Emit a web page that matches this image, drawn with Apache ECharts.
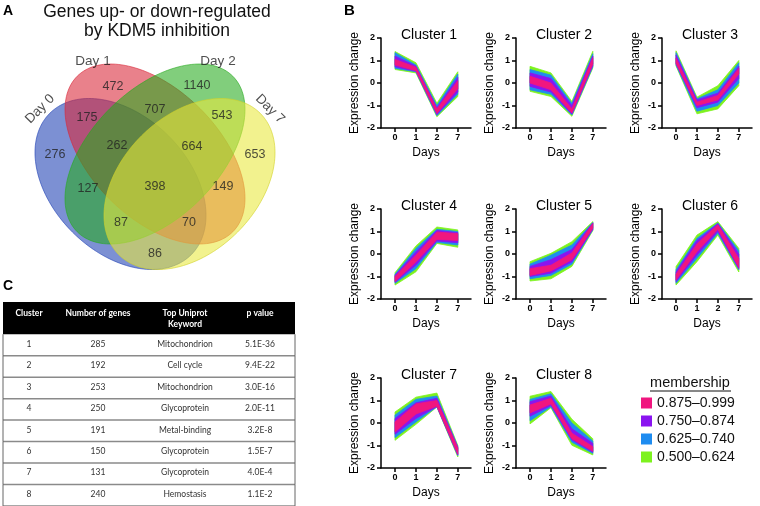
<!DOCTYPE html>
<html><head><meta charset="utf-8">
<script src="https://cdn.jsdelivr.net/npm/echarts@6/dist/echarts.min.js"></script>
<style>html,body{margin:0;padding:0;background:#fff}#c{width:760px;height:506px}</style>
</head><body><div id="c"></div>
<script>
// ---------------- DATA ----------------
const days = ['0', '1', '2', '7'];
const clusterNames = ['Cluster 1','Cluster 2','Cluster 3','Cluster 4','Cluster 5','Cluster 6','Cluster 7','Cluster 8'];
const membershipLevels = ['0.875–0.999', '0.750–0.874', '0.625–0.740', '0.500–0.624'];

// band per membership level: [lower bound per day, upper bound per day]
const c1Green  = [[0.60, 0.45, -1.50, -0.60], [1.40, 0.90, -0.90, 0.50]];
const c1Blue   = [[0.65, 0.50, -1.45, -0.50], [1.35, 0.80, -1.00, 0.40]];
const c1Purple = [[0.72, 0.52, -1.40, -0.40], [1.20, 0.75, -1.10, 0.25]];
const c1Pink   = [[0.80, 0.55, -1.35, -0.25], [1.05, 0.70, -1.15, 0.10]];

const c2Green  = [[-0.37, -0.60, -1.48, 0.67], [0.74, 0.45, -0.82, 1.41]];
const c2Blue   = [[-0.30, -0.50, -1.42, 0.72], [0.60, 0.35, -0.90, 1.30]];
const c2Purple = [[-0.15, -0.40, -1.38, 0.78], [0.45, 0.20, -1.00, 1.20]];
const c2Pink   = [[0.00, -0.30, -1.33, 0.85], [0.30, 0.00, -1.15, 1.12]];

const c3Green  = [[0.76, -1.37, -1.15, -0.12], [1.43, -0.63, -0.12, 1.00]];
const c3Blue   = [[0.80, -1.25, -1.00, 0.00], [1.35, -0.70, -0.30, 0.90]];
const c3Purple = [[0.85, -1.10, -0.85, 0.20], [1.25, -0.75, -0.45, 0.75]];
const c3Pink   = [[0.88, -1.00, -0.75, 0.40], [1.10, -0.85, -0.55, 0.65]];

const c4Green  = [[-1.38, -0.79, 0.47, 0.30], [-0.83, 0.36, 1.20, 1.07]];
const c4Blue   = [[-1.30, -0.65, 0.52, 0.40], [-0.90, 0.25, 1.10, 1.00]];
const c4Purple = [[-1.25, -0.50, 0.58, 0.50], [-0.95, 0.10, 1.05, 0.95]];
const c4Pink   = [[-1.22, -0.35, 0.65, 0.60], [-1.00, -0.05, 0.98, 0.90]];

const c5Green  = [[-1.20, -1.10, -0.55, 1.04], [-0.34, 0.03, 0.55, 1.44]];
const c5Blue   = [[-1.10, -0.95, -0.45, 1.08], [-0.45, -0.05, 0.40, 1.40]];
const c5Purple = [[-1.00, -0.85, -0.35, 1.10], [-0.55, -0.25, 0.20, 1.38]];
const c5Pink   = [[-0.95, -0.75, -0.25, 1.15], [-0.65, -0.50, 0.05, 1.35]];

const c6Green  = [[-1.38, -0.34, 0.84, -0.80], [-0.56, 0.84, 1.44, 0.25]];
const c6Blue   = [[-1.30, -0.20, 0.92, -0.70], [-0.70, 0.70, 1.38, 0.15]];
const c6Purple = [[-1.22, -0.05, 1.00, -0.65], [-0.80, 0.60, 1.35, 0.00]];
const c6Pink   = [[-1.15, 0.10, 1.10, -0.60], [-0.90, 0.45, 1.30, -0.20]];

const c7Green  = [[-0.77, -0.06, 0.71, -1.51], [0.49, 1.15, 1.33, -1.00]];
const c7Blue   = [[-0.65, 0.05, 0.72, -1.45], [0.35, 1.05, 1.20, -1.05]];
const c7Purple = [[-0.50, 0.20, 0.73, -1.42], [0.20, 0.90, 1.10, -1.08]];
const c7Pink   = [[-0.40, 0.40, 0.75, -1.38], [0.05, 0.85, 1.00, -1.12]];

const c8Green  = [[-0.04, 0.68, -0.99, -1.42], [1.19, 1.40, 0.17, -0.70]];
const c8Blue   = [[0.10, 0.72, -0.85, -1.35], [1.05, 1.30, 0.00, -0.80]];
const c8Purple = [[0.30, 0.78, -0.75, -1.30], [0.95, 1.20, -0.25, -0.90]];
const c8Pink   = [[0.45, 0.85, -0.70, -1.25], [0.80, 1.10, -0.45, -1.05]];

// Venn
const vennSets = ['Day 0', 'Day 1', 'Day 2', 'Day 7'];
const vennCounts = [276, 472, 1140, 653, 175, 707, 543, 262, 664, 127, 398, 149, 87, 70, 86];

// Table
const tableHeaders = ['Cluster', 'Number of genes', 'Top Uniprot\nKeyword', 'p value'];
const tableCluster = ['1', '2', '3', '4', '5', '6', '7', '8'];
const tableGenes = ['285', '192', '253', '250', '191', '150', '131', '240'];
const tableKeyword = ['Mitochondrion', 'Cell cycle', 'Mitochondrion', 'Glycoprotein', 'Metal-binding', 'Glycoprotein', 'Glycoprotein', 'Hemostasis'];
const tablePValue = ['5.1E-36', '9.4E-22', '3.0E-16', '2.0E-11', '3.2E-8', '1.5E-7', '4.0E-4', '1.1E-2'];

// ---------------- LAYOUT / STYLE ----------------
const FONT = 'Liberation Sans';
const levelColors = ['#F0167F', '#8A14F0', '#1E8CF0', '#7DF21E'];
const clusterBands = [
  [c1Green, c1Blue, c1Purple, c1Pink], [c2Green, c2Blue, c2Purple, c2Pink],
  [c3Green, c3Blue, c3Purple, c3Pink], [c4Green, c4Blue, c4Purple, c4Pink],
  [c5Green, c5Blue, c5Purple, c5Pink], [c6Green, c6Blue, c6Purple, c6Pink],
  [c7Green, c7Blue, c7Purple, c7Pink], [c8Green, c8Blue, c8Purple, c8Pink]
];
const bandLevelIdx = [3, 2, 1, 0]; // draw order green, blue, purple, pink
const colX = [381, 516, 662];
const rowY = [38, 209, 378];
const panelW = 90, panelH = 90;

const vennGeom = [ // cx, cy, a, b, angle (grid pixel units)
  [120.5, 184, 100, 68, 45],
  [155, 154, 110, 64, 45],
  [155, 154, 110, 64, -45],
  [189.5, 184, 100, 68, -45]
];
const vennFill = ['rgba(30,63,180,0.58)', 'rgba(217,38,55,0.58)', 'rgba(38,170,30,0.58)', 'rgba(232,232,60,0.58)'];
const vennStroke = ['rgba(30,63,180,0.6)', 'rgba(217,38,55,0.6)', 'rgba(38,170,30,0.6)', 'rgba(210,210,40,0.6)'];
const vennCountPos = [[55,155],[113,87],[197,86],[255,155],[87,118],[155,110],[222,116],[117,146],[192,147],[88,189],[155,187],[223,187],[121,223],[189,223],[155,254]];
const vennSetPos = [[40,109,45],[93,61,0],[218,61,0],[270,109,-45]];

const tableColX = [26, 95, 182, 257];
const tableW = 292;

// ---------------- BUILD ----------------
const grids = [], xAxes = [], yAxes = [], series = [], titles = [];
for (let k = 0; k < 8; k++) {
  const r = Math.floor(k / 3), c = k % 3;
  grids.push({left: colX[c], top: rowY[r], width: panelW, height: panelH});
  xAxes.push({
    type: 'value', gridIndex: k, min: -0.67, max: 3.63,
    axisLine: {show: true, onZero: false, lineStyle: {color: '#000', width: 1.5}},
    axisTick: {show: true, customValues: [0, 1, 2, 3], length: 4, lineStyle: {color: '#000', width: 1.5}},
    axisLabel: {show: true, customValues: [0, 1, 2, 3], formatter: v => days[v], fontWeight: 'bold', fontSize: 9, color: '#000', margin: 5, fontFamily: FONT},
    splitLine: {show: false},
    name: 'Days', nameLocation: 'middle', nameGap: 19,
    nameTextStyle: {fontSize: 12, color: '#000', fontFamily: FONT}
  });
  yAxes.push({
    type: 'value', gridIndex: k, min: -2, max: 2, interval: 1,
    axisLine: {show: true, onZero: false, lineStyle: {color: '#000', width: 1.5}},
    axisTick: {show: true, length: 4, lineStyle: {color: '#000', width: 1.5}},
    axisLabel: {fontWeight: 'bold', fontSize: 9, color: '#000', margin: 6, fontFamily: FONT},
    splitLine: {show: false},
    name: 'Expression change', nameLocation: 'middle', nameGap: 20,
    nameTextStyle: {fontSize: 12, color: '#000', fontFamily: FONT}
  });
  titles.push({
    text: clusterNames[k], left: colX[c] + 48, top: rowY[r] - 10, textAlign: 'center', padding: 0,
    textStyle: {fontSize: 14, fontWeight: 'normal', color: '#000', fontFamily: FONT}
  });
  clusterBands[k].forEach((band, b) => {
    const li = bandLevelIdx[b];
    series.push({
      type: 'custom', name: membershipLevels[li], xAxisIndex: k, yAxisIndex: k, silent: true, clip: false,
      itemStyle: {color: levelColors[li]},
      data: [[0].concat(band[0], band[1], [li])],
      encode: {x: 0, y: 1},
      renderItem(params, api) {
        const pts = [];
        for (let i = 0; i < 4; i++) pts.push(api.coord([i, api.value(1 + i)]));
        for (let i = 3; i >= 0; i--) pts.push(api.coord([i, api.value(5 + i)]));
        const col = levelColors[api.value(9)];
        return {type: 'polygon', shape: {points: pts}, style: {fill: col, stroke: col, lineWidth: 0.8, lineJoin: 'round'}};
      }
    });
  });
}

// Venn grid (index 8)
grids.push({left: 0, top: 0, width: 330, height: 270});
xAxes.push({type: 'value', gridIndex: 8, min: 0, max: 330, show: false});
yAxes.push({type: 'value', gridIndex: 8, min: 0, max: 270, inverse: true, show: false});
series.push({
  type: 'custom', xAxisIndex: 8, yAxisIndex: 8, silent: true, clip: false,
  data: vennSets.map((s, i) => ({name: s, value: vennGeom[i]})),
  encode: {x: 0, y: 1},
  renderItem(params, api) {
    const cx = api.value(0), cy = api.value(1), a = api.value(2), b = api.value(3), ang = api.value(4) * Math.PI / 180;
    const pts = [];
    for (let t = 0; t < 160; t++) {
      const th = t / 160 * Math.PI * 2;
      const x = a * Math.cos(th), y = b * Math.sin(th);
      pts.push(api.coord([cx + x * Math.cos(ang) - y * Math.sin(ang), cy + x * Math.sin(ang) + y * Math.cos(ang)]));
    }
    return {type: 'polygon', shape: {points: pts}, style: {fill: vennFill[params.dataIndex], stroke: vennStroke[params.dataIndex], lineWidth: 1}};
  }
});
series.push({
  type: 'scatter', xAxisIndex: 8, yAxisIndex: 8, silent: true, symbolSize: 1,
  itemStyle: {color: 'transparent'},
  data: vennCounts.map((v, i) => ({value: vennCountPos[i], name: String(v)})),
  label: {show: true, position: 'inside', formatter: '{b}', fontSize: 12.5, color: '#222', fontFamily: FONT},
  z: 5
});
series.push({
  type: 'scatter', xAxisIndex: 8, yAxisIndex: 8, silent: true, symbolSize: 1,
  itemStyle: {color: 'transparent'},
  data: vennSets.map((s, i) => ({value: [vennSetPos[i][0], vennSetPos[i][1]], name: s, label: {rotate: vennSetPos[i][2]}})),
  label: {show: true, position: 'inside', formatter: '{b}', fontSize: 13.5, color: '#222', fontFamily: FONT},
  z: 5
});
titles.push({
  text: 'Genes up- or down-regulated\nby KDM5 inhibition', left: 157, top: 2, textAlign: 'center', padding: 0,
  textStyle: {fontSize: 17.5, fontWeight: 'normal', color: '#111', lineHeight: 19.5, fontFamily: FONT}
});

// Table grid (index 9)
grids.push({left: 3, top: 302, width: tableW, height: 204});
xAxes.push({type: 'value', gridIndex: 9, min: 0, max: tableW, show: false});
yAxes.push({type: 'value', gridIndex: 9, min: 0, max: 9.5, inverse: true, show: false});
const tFont = 'Lato';
series.push({
  type: 'custom', xAxisIndex: 9, yAxisIndex: 9, silent: true, clip: false,
  data: [[0, 0]], encode: {x: 0, y: 1},
  renderItem(params, api) {
    const p0 = api.coord([0, 0]), p1 = api.coord([tableW, 1.5]);
    const ch = [{type: 'rect', shape: {x: p0[0], y: p0[1], width: p1[0] - p0[0], height: p1[1] - p0[1]}, style: {fill: '#000'}}];
    tableHeaders.forEach((h, j) => {
      const c = api.coord([tableColX[j], 0.25]);
      ch.push({type: 'text', style: {text: h, x: c[0], y: c[1], align: 'center', verticalAlign: 'top', fill: '#fff', fontSize: 8.5, fontWeight: 'bold', fontFamily: tFont, lineHeight: 11}});
    });
    return {type: 'group', children: ch};
  }
});
series.push({
  type: 'custom', xAxisIndex: 9, yAxisIndex: 9, silent: true, clip: false,
  data: tableCluster.map((c, i) => [0, i]), encode: {x: 0, y: 1},
  renderItem(params, api) {
    const i = params.dataIndex;
    const cells = [tableCluster[i], tableGenes[i], tableKeyword[i], tablePValue[i]];
    const ch = [];
    cells.forEach((t, j) => {
      const c = api.coord([tableColX[j], 1.95 + i]);
      ch.push({type: 'text', style: {text: t, x: c[0], y: c[1], align: 'center', verticalAlign: 'middle', fill: '#333', fontSize: 8.5, fontFamily: tFont}});
    });
    const a = api.coord([0, 2.5 + i]), b = api.coord([tableW, 2.5 + i]);
    const top = api.coord([0, 1.5 + i]);
    ch.push({type: 'line', shape: {x1: a[0], y1: a[1], x2: b[0], y2: b[1]}, style: {stroke: '#8a8a8a', lineWidth: 1.5}});
    ch.push({type: 'line', shape: {x1: a[0], y1: top[1], x2: a[0], y2: a[1]}, style: {stroke: '#666', lineWidth: 1}});
    ch.push({type: 'line', shape: {x1: b[0], y1: top[1], x2: b[0], y2: b[1]}, style: {stroke: '#666', lineWidth: 1}});
    return {type: 'group', children: ch};
  }
});

const option = {
  animation: false,
  backgroundColor: '#fff',
  textStyle: {fontFamily: FONT},
  title: titles,
  grid: grids, xAxis: xAxes, yAxis: yAxes, series: series,
  legend: {
    orient: 'vertical', left: 641, top: 396, padding: 0, itemGap: 4, itemWidth: 11, itemHeight: 11,
    selectedMode: false,
    data: membershipLevels.map((n, i) => ({name: n, icon: 'rect', itemStyle: {color: levelColors[i]}})),
    textStyle: {fontSize: 14, color: '#111', fontFamily: FONT, lineHeight: 14}
  },
  graphic: [
    {type: 'text', x: 690, y: 383, style: {text: 'membership', align: 'center', verticalAlign: 'middle', fontSize: 14.5, fill: '#111', fontFamily: FONT}},
    {type: 'line', shape: {x1: 650, y1: 391, x2: 731, y2: 391}, style: {stroke: '#111', lineWidth: 1}},
    {type: 'text', x: 3, y: 4, style: {text: 'A', fontSize: 14, fontWeight: 'bold', fill: '#000', fontFamily: FONT}},
    {type: 'text', x: 344, y: 3, style: {text: 'B', fontSize: 15, fontWeight: 'bold', fill: '#000', fontFamily: FONT}},
    {type: 'text', x: 3, y: 279, style: {text: 'C', fontSize: 14, fontWeight: 'bold', fill: '#000', fontFamily: FONT}}
  ]
};
const chart = echarts.init(document.getElementById('c'), null, {renderer: 'canvas'});
chart.setOption(option);
</script></body></html>
